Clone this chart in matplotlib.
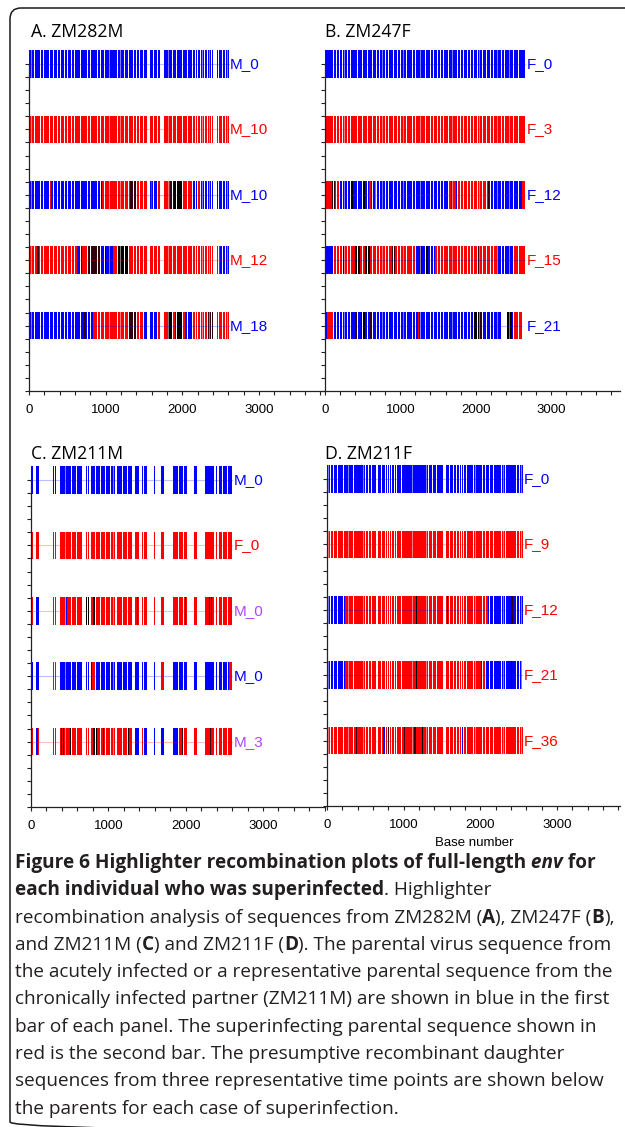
import numpy as np
import matplotlib.pyplot as plt
from matplotlib.patches import FancyBboxPatch

plt.rcParams['font.family'] = 'Liberation Sans'

W, H = 625, 1127

colours = {'b': '#0000ff', 'r': '#ff0000', 'k': '#000000', 'd': '#33000f',
           'g': '#808080', 'p': '#b044ff'}

# ---- panel A
A_title = 'A. ZM282M'
A_rows = ['M_0', 'M_10', 'M_10', 'M_12', 'M_18']
A_row_colours = ['b', 'r', 'b', 'r', 'b']
A_length = 2607
A_gaps = [(70, 82), (143, 155), (187, 199), (265, 277), (317, 329), (362, 372), (410, 420),
          (455, 465), (500, 510), (548, 558), (587, 599),
          (665, 677), (752, 764), (796, 808), (883, 895), (926, 938), (978, 990), (1143, 1155),
          (1239, 1251), (1296, 1308), (1352, 1364), (1396, 1408), (1439, 1451), (1491, 1503),
          (1545, 1572), (1622, 1634), (1665, 1677), (1709, 1765), (1861, 1873), (1917, 1929),
          (1991, 2003), (2057, 2069), (2122, 2134), (2165, 2177), (2196, 2208), (2230, 2242),
          (2283, 2295), (2317, 2329), (2370, 2382), (2404, 2448), (2470, 2482), (2513, 2525),
          (2557, 2569)]
A_pale = [(30, 40), (230, 240), (620, 630), (1050, 1060), (1190, 1200), (1600, 1610),
          (1810, 1820), (2030, 2040), (2260, 2270), (2345, 2355), (2585, 2595)]
A_bars = [
    [(0, 2607, 'b')],
    [(0, 2607, 'r')],
    [(0, 948, 'b'), (270, 282, 'r'), (490, 502, 'r'), (948, 1317, 'r'), (1317, 1404, 'd'),
     (1404, 1535, 'r'), (1535, 1665, 'b'), (1595, 1610, 'r'), (1665, 1840, 'r'), (1840, 1890, 'd'),
     (1890, 1990, 'k'), (1990, 2120, 'r'), (2120, 2187, 'b'), (2187, 2230, 'r'), (2230, 2607, 'b')],
    [(0, 630, 'r'), (110, 125, 'd'), (630, 690, 'b'), (690, 770, 'r'), (770, 926, 'd'),
     (926, 1100, 'b'), (990, 1002, 'k'), (1040, 1055, 'k'), (1100, 1165, 'r'), (1165, 1290, 'k'),
     (1290, 2495, 'r'), (2495, 2607, 'b')],
    [(0, 840, 'b'), (665, 680, 'r'), (720, 740, 'd'), (760, 772, 'r'), (840, 1295, 'r'),
     (1295, 1400, 'd'), (1400, 1490, 'r'), (1490, 1665, 'b'), (1665, 1810, 'r'), (1810, 1990, 'k'),
     (1880, 1900, 'r'), (1990, 2030, 'r'), (2030, 2120, 'b'), (2120, 2340, 'r'), (2340, 2400, 'd'),
     (2400, 2607, 'r')],
]
A_marks = [[], [], [], [], []]

# ---- panel B
B_title = 'B. ZM247F'
B_rows = ['F_0', 'F_3', 'F_12', 'F_15', 'F_21']
B_row_colours = ['b', 'r', 'b', 'r', 'b']
B_length = 2660
B_gaps = [(111, 123), (146, 158), (190, 202), (221, 233), (288, 300), (332, 344), (420, 432),
          (487, 499), (553, 565), (619, 631), (677, 690), (715, 730), (796, 808), (841, 853),
          (898, 910), (951, 963), (996, 1008), (1075, 1087), (1150, 1162), (1195, 1207),
          (1327, 1339), (1394, 1406), (1438, 1450), (1482, 1494), (1527, 1539), (1571, 1583),
          (1637, 1649), (1748, 1760), (1792, 1804), (1836, 1848), (1881, 1893), (1925, 1937),
          (1969, 1981), (2013, 2025), (2080, 2092), (2137, 2149), (2190, 2202), (2235, 2247),
          (2330, 2350), (2370, 2385), (2500, 2512), (2566, 2578)]
B_pale = [(60, 70), (250, 260), (380, 390), (760, 770), (1040, 1050), (1260, 1270),
          (1690, 1700), (2050, 2060), (2280, 2290), (2440, 2450)]
B_bars = [
    [(0, 2660, 'b')],
    [(0, 2660, 'r')],
    [(0, 90, 'r'), (90, 133, 'd'), (133, 200, 'r'), (200, 1637, 'b'), (330, 376, 'k'),
     (487, 530, 'k'), (590, 605, 'r'), (664, 695, 'g'), (1190, 1200, 'r'), (1637, 2168, 'r'),
     (1675, 1690, 'b'), (1740, 1755, 'b'), (2160, 2175, 'd'), (2175, 2610, 'b'), (2610, 2660, 'r')],
    [(0, 110, 'b'), (110, 400, 'r'), (240, 250, 'd'), (400, 465, 'k'), (465, 530, 'r'),
     (530, 600, 'k'), (600, 1195, 'r'), (885, 930, 'd'), (990, 1000, 'd'), (1195, 1460, 'b'),
     (1265, 1290, 'd'), (1327, 1372, 'k'), (1460, 2280, 'r'), (2013, 2057, 'd'), (2185, 2195, 'b'),
     (2280, 2500, 'b'), (2500, 2660, 'r')],
    [(0, 20, 'b'), (20, 110, 'r'), (110, 1970, 'b'), (400, 440, 'd'), (480, 530, 'k'),
     (597, 640, 'd'), (1235, 1245, 'r'), (1970, 2057, 'k'), (2057, 2080, 'd'), (2080, 2340, 'b'),
     (2200, 2210, 'g'), (2340, 2355, 'g'), (2410, 2478, 'k'), (2478, 2500, 'b'), (2500, 2610, 'r')],
]
B_marks = [[], [], [], [], []]

# ---- panel C
C_title = 'C. ZM211M'
C_rows = ['M_0', 'F_0', 'M_0', 'M_0', 'M_3']
C_row_colours = ['b', 'r', 'p', 'b', 'p']
C_length = 2605
C_gaps = [(20, 65), (100, 281), (291, 316), (326, 377), (523, 533), (588, 598), (658, 714),
          (724, 736), (746, 775), (826, 836), (891, 901), (956, 966), (1021, 1031), (1090, 1112),
          (1175, 1185), (1240, 1250), (1307, 1350), (1394, 1437), (1447, 1459), (1502, 1589),
          (1610, 1675), (1719, 1740), (1750, 1840), (1905, 1915), (1970, 1980), (2022, 2065),
          (2075, 2108), (2152, 2247), (2368, 2390), (2400, 2433), (2470, 2480), (2535, 2545)]
C_pale = [(440, 448), (1060, 1068), (1870, 1878), (2300, 2308)]
C_bars = [
    [(0, 2605, 'b')],
    [(0, 2605, 'r')],
    [(0, 2605, 'r'), (5, 15, 'd'), (65, 100, 'b'), (450, 460, 'b'), (700, 750, 'k'), (805, 830, 'k'),
     (1160, 1170, 'd'), (1365, 1380, 'b'), (1405, 1415, 'd'), (1625, 1640, 'k'), (1995, 2005, 'd'),
     (2040, 2050, 'b'), (2300, 2310, 'd'), (2328, 2338, 'b'), (2405, 2415, 'k')],
    [(0, 2605, 'b'), (268, 335, 'r'), (788, 831, 'r'), (1610, 1655, 'k'), (1680, 1720, 'r'),
     (2560, 2605, 'r')],
    [(0, 2605, 'r'), (0, 10, 'k'), (50, 85, 'b'), (390, 405, 'k'), (420, 430, 'k'), (500, 512, 'k'),
     (805, 855, 'k'), (900, 910, 'd'), (935, 945, 'k'), (1255, 1270, 'k'), (1350, 1400, 'b'),
     (1459, 1600, 'b'), (1600, 1655, 'k'), (1655, 1780, 'b'), (1827, 1900, 'b'), (1950, 1960, 'd'),
     (2320, 2330, 'd')],
]
C_marks = [[], [], [(175, 186, 'k')], [], [(175, 186, 'k')]]

# ---- panel D
D_title = 'D. ZM211F'
D_rows = ['F_0', 'F_9', 'F_12', 'F_21', 'F_36']
D_row_colours = ['b', 'r', 'r', 'r', 'r']
D_length = 2555
D_gaps = [(39, 50), (82, 93), (126, 137), (177, 188), (212, 223), (255, 266), (307, 318),
          (342, 353), (385, 396), (437, 448), (494, 505), (537, 548), (580, 591), (636, 667),
          (710, 721), (753, 764), (784, 795), (810, 821), (840, 851), (870, 881), (905, 916),
          (965, 975), (1025, 1035),
          (1078, 1089), (1143, 1154), (1208, 1219), (1260, 1271), (1316, 1327), (1372, 1383),
          (1424, 1435), (1511, 1554), (1597, 1608), (1641, 1652), (1684, 1695), (1719, 1730),
          (1749, 1760), (1779, 1790), (1814, 1825), (1900, 1911), (1965, 1976), (2022, 2033),
          (2065, 2076), (2117, 2128), (2169, 2180), (2225, 2236), (2268, 2279), (2325, 2336),
          (2368, 2379), (2420, 2431), (2463, 2474), (2506, 2517)]
D_pale = [(10, 20), (280, 290), (470, 480), (935, 945), (1110, 1120), (1290, 1300), (1470, 1480),
          (1860, 1870), (1935, 1945), (2300, 2310), (2530, 2540)]
D_bars = [
    [(0, 2555, 'b')],
    [(0, 2555, 'r')],
    [(0, 234, 'b'), (234, 2095, 'r'), (1160, 1172, 'k'), (1560, 1572, 'k'), (1592, 1602, 'b'),
     (2095, 2555, 'b'), (2400, 2420, 'd')],
    [(0, 240, 'b'), (240, 2075, 'r'), (1160, 1175, 'k'), (1420, 1430, 'd'), (1745, 1755, 'b'),
     (2015, 2025, 'd'), (2075, 2545, 'b'), (2400, 2415, 'd')],
    [(0, 2555, 'r'), (380, 392, 'd'), (735, 755, 'b'), (796, 818, 'd'), (1005, 1018, 'd'),
     (1140, 1165, 'd'), (1245, 1257, 'k'), (1756, 1768, 'b')],
]
D_marks = [[], [], [], [], []]

caption = [
    [("Figure 6 Highlighter recombination plots of full-length", 'bold', 'normal'),
     (" env", 'bold', 'italic'), (" for", 'bold', 'normal')],
    [("each individual who was superinfected", 'bold', 'normal'), (". Highlighter", 'normal', 'normal')],
    [("recombination analysis of sequences from ZM282M (", 'normal', 'normal'), ("A", 'bold', 'normal'),
     ("), ZM247F (", 'normal', 'normal'), ("B", 'bold', 'normal'), ("),", 'normal', 'normal')],
    [("and ZM211M (", 'normal', 'normal'), ("C", 'bold', 'normal'), (") and ZM211F (", 'normal', 'normal'),
     ("D", 'bold', 'normal'), ("). The parental virus sequence from", 'normal', 'normal')],
    [("the acutely infected or a representative parental sequence from the", 'normal', 'normal')],
    [("chronically infected partner (ZM211M) are shown in blue in the first", 'normal', 'normal')],
    [("bar of each panel. The superinfecting parental sequence shown in", 'normal', 'normal')],
    [("red is the second bar. The presumptive recombinant daughter", 'normal', 'normal')],
    [("sequences from three representative time points are shown below", 'normal', 'normal')],
    [("the parents for each case of superinfection.", 'normal', 'normal')],
]

fig = plt.figure(figsize=(W / 100, H / 100), dpi=100)
bg = fig.add_axes([0, 0, 1, 1], zorder=0)
bg.set_xlim(0, W)
bg.set_ylim(H, 0)
bg.axis('off')
bg.add_patch(FancyBboxPatch((10, 8), 900, 1125, boxstyle='round,pad=0,rounding_size=11',
                            fill=False, lw=1.1, ec='#1a1a1a'))


def px_axes(left, top, right, bottom):
    ax = fig.add_axes([left / W, 1 - bottom / H, (right - left) / W, (bottom - top) / H], zorder=1)
    ax.set_facecolor('none')
    return ax


def draw_panel(ax, xmax, bars, gaps, pale, marks, rows, row_colours, length):
    ys = [5, 4, 3, 2, 1]
    h = 0.42
    for y, segs, mk, lab, lc in zip(ys, bars, marks, rows, row_colours):
        end = max(s[1] for s in segs)
        for s0, s1, c in segs:
            ax.broken_barh([(s0, s1 - s0)], (y - h / 2, h), facecolors=colours[c], lw=0, clip_on=False)
        for g0, g1 in gaps:
            if g0 < end:
                ax.broken_barh([(g0, min(g1, end) - g0)], (y - h / 2, h), facecolors='white',
                               lw=0, clip_on=False)
        for g0, g1 in pale:
            if g0 < end:
                ax.broken_barh([(g0, min(g1, end) - g0)], (y - h / 2, h), facecolors='white',
                               alpha=0.5, lw=0, clip_on=False)
        for s0, s1, c in mk:
            ax.broken_barh([(s0, s1 - s0)], (y - h / 2, h), facecolors=colours[c], lw=0, clip_on=False)
        ax.plot([0, end], [y, y], color=colours[segs[0][2]], alpha=0.25, lw=0.8, clip_on=False)
        ax.text(length + 12, y, lab, color=colours[lc], fontsize=11, va='center', ha='left')

    ax.set_xlim(0, xmax)
    ax.set_ylim(0, 5)
    for s in ['top', 'right']:
        ax.spines[s].set_visible(False)
    for s in ['left', 'bottom']:
        ax.spines[s].set_linewidth(0.9)
        ax.spines[s].set_color('#222222')
    ax.set_xticks([0, 1000, 2000, 3000])
    ax.set_xticks(np.arange(0, xmax, 200), minor=True)
    ax.set_yticks(np.arange(0, 6))
    ax.set_yticks(np.arange(0, 5.01, 0.2), minor=True)
    ax.set_yticklabels([])
    ax.tick_params(which='both', direction='out', length=3.2, width=0.8, color='#222222')
    ax.tick_params(axis='x', labelsize=9.5, pad=6)


axA = px_axes(29, 64, 325, 391)
draw_panel(axA, 3861, A_bars, A_gaps, A_pale, A_marks, A_rows, A_row_colours, A_length)
axB = px_axes(325, 64, 620, 391)
draw_panel(axB, 3916, B_bars, B_gaps, B_pale, B_marks, B_rows, B_row_colours, B_length)
axC = px_axes(31, 480, 325, 807)
draw_panel(axC, 3802, C_bars, C_gaps, C_pale, C_marks, C_rows, C_row_colours, C_length)
axD = px_axes(327, 479, 620, 806)
draw_panel(axD, 3822, D_bars, D_gaps, D_pale, D_marks, D_rows, D_row_colours, D_length)

title_font = dict(family='Open Sans', fontsize=12.7, va='baseline', ha='left')
bg.text(31, 37, A_title, **title_font)
bg.text(325, 37, B_title, **title_font)
bg.text(31, 459, C_title, **title_font)
bg.text(325, 459, D_title, **title_font)
bg.text(474, 846, 'Base number', fontsize=9.5, ha='center', va='baseline')

r = fig.canvas.get_renderer()
for i, line in enumerate(caption):
    x = 15
    yb = 868 + 27.3 * i
    for txt, weight, style in line:
        t = bg.text(x, yb, txt, family='Open Sans', fontsize=13.7, weight=weight, style=style,
                    va='baseline', ha='left', color='#231f20')
        x += t.get_window_extent(renderer=r).width

fig.savefig('out.png', dpi=100)
